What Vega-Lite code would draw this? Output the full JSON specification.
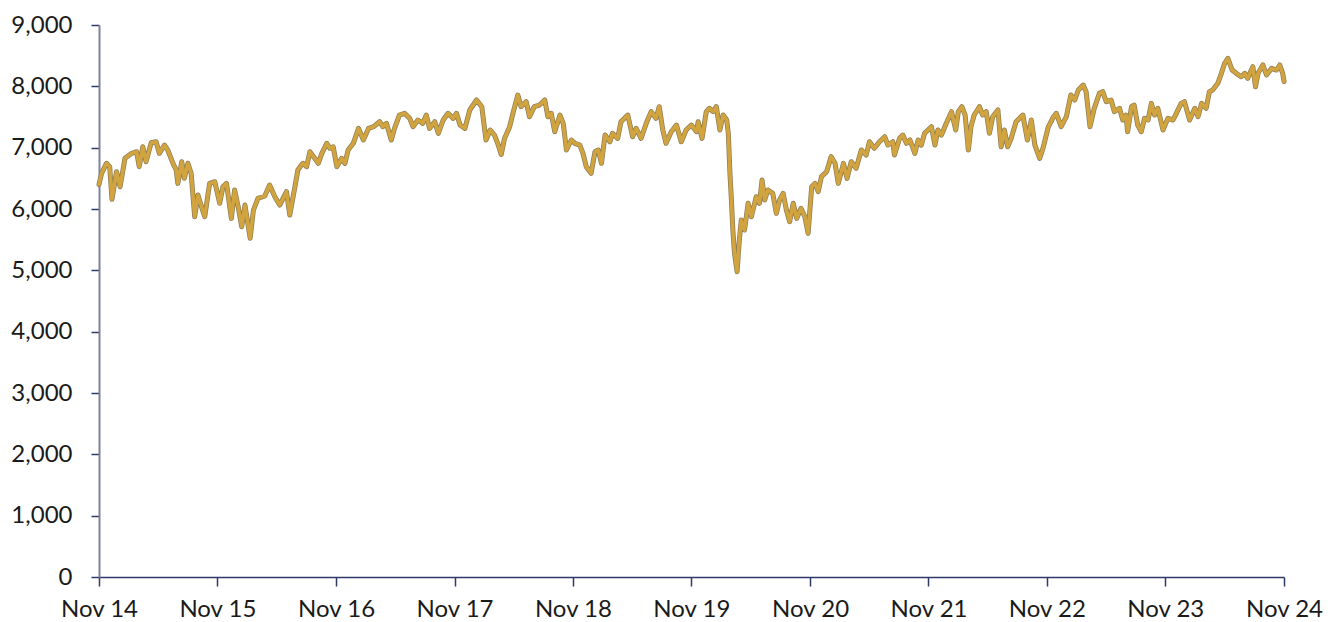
{
  "$schema": "https://vega.github.io/schema/vega-lite/v6.json",
  "width": 1185,
  "height": 552,
  "autosize": {"type": "none"},
  "padding": {"left": 99, "top": 25, "right": 56, "bottom": 45},
  "background": "#ffffff",
  "config": {
    "view": {"stroke": null},
    "font": "Lato",
    "axis": {"grid": false, "labelFont": "Lato", "labelFontSize": 24, "labelColor": "#1a1a1a", "title": null}
  },
  "datasets": {
    "idx": [
      {"date":"2014-11-01","value":6400},{"date":"2014-11-09","value":6582},{"date":"2014-11-24","value":6745},{"date":"2014-12-04","value":6690},{"date":"2014-12-11","value":6158},{"date":"2014-12-25","value":6608},
      {"date":"2015-01-05","value":6363},{"date":"2015-01-20","value":6826},{"date":"2015-02-10","value":6908},{"date":"2015-02-25","value":6934},{"date":"2015-03-05","value":6690},{"date":"2015-03-16","value":7015},{"date":"2015-03-26","value":6771},{"date":"2015-04-11","value":7081},{"date":"2015-04-26","value":7097},{"date":"2015-05-06","value":6908},{"date":"2015-05-22","value":7043},{"date":"2015-06-01","value":6962},{"date":"2015-06-17","value":6745},{"date":"2015-06-27","value":6636},{"date":"2015-07-02","value":6418},{"date":"2015-07-14","value":6771},{"date":"2015-07-22","value":6500},{"date":"2015-08-02","value":6745},{"date":"2015-08-12","value":6582},{"date":"2015-08-23","value":5874},{"date":"2015-09-02","value":6228},{"date":"2015-09-13","value":6037},{"date":"2015-09-23","value":5874},{"date":"2015-10-08","value":6418},{"date":"2015-10-24","value":6445},{"date":"2015-11-08","value":6093},{"date":"2015-11-18","value":6363},{"date":"2015-11-29","value":6418},{"date":"2015-12-14","value":5847},{"date":"2015-12-24","value":6310},
      {"date":"2016-01-04","value":6037},{"date":"2016-01-15","value":5711},{"date":"2016-01-25","value":6065},{"date":"2016-02-10","value":5522},{"date":"2016-02-20","value":5983},{"date":"2016-03-05","value":6174},{"date":"2016-03-26","value":6212},{"date":"2016-04-10","value":6391},{"date":"2016-04-26","value":6200},{"date":"2016-05-11","value":6065},{"date":"2016-06-01","value":6282},{"date":"2016-06-11","value":5902},{"date":"2016-06-27","value":6363},{"date":"2016-07-06","value":6636},{"date":"2016-07-17","value":6717},{"date":"2016-07-22","value":6745},{"date":"2016-08-02","value":6690},{"date":"2016-08-12","value":6934},{"date":"2016-08-27","value":6826},{"date":"2016-09-07","value":6745},{"date":"2016-09-18","value":6908},{"date":"2016-10-03","value":7071},{"date":"2016-10-13","value":6990},{"date":"2016-10-23","value":7015},{"date":"2016-11-03","value":6690},{"date":"2016-11-18","value":6826},{"date":"2016-11-28","value":6745},{"date":"2016-12-08","value":6962},{"date":"2016-12-24","value":7071},
      {"date":"2017-01-09","value":7315},{"date":"2017-01-24","value":7125},{"date":"2017-02-09","value":7315},{"date":"2017-02-25","value":7342},{"date":"2017-03-15","value":7423},{"date":"2017-03-25","value":7342},{"date":"2017-04-05","value":7397},{"date":"2017-04-20","value":7125},{"date":"2017-04-30","value":7315},{"date":"2017-05-15","value":7532},{"date":"2017-05-31","value":7560},{"date":"2017-06-16","value":7478},{"date":"2017-06-26","value":7342},{"date":"2017-07-11","value":7451},{"date":"2017-07-26","value":7397},{"date":"2017-08-06","value":7532},{"date":"2017-08-16","value":7315},{"date":"2017-09-01","value":7423},{"date":"2017-09-12","value":7234},{"date":"2017-09-27","value":7451},{"date":"2017-10-12","value":7560},{"date":"2017-10-28","value":7478},{"date":"2017-11-07","value":7560},{"date":"2017-11-18","value":7369},{"date":"2017-12-03","value":7315},{"date":"2017-12-18","value":7614},
      {"date":"2018-01-08","value":7777},{"date":"2018-01-24","value":7668},{"date":"2018-02-06","value":7125},{"date":"2018-02-19","value":7288},{"date":"2018-03-04","value":7206},{"date":"2018-03-14","value":7071},{"date":"2018-03-25","value":6890},{"date":"2018-04-04","value":7150},{"date":"2018-04-20","value":7342},{"date":"2018-04-30","value":7560},{"date":"2018-05-15","value":7858},{"date":"2018-05-25","value":7668},{"date":"2018-06-10","value":7750},{"date":"2018-06-20","value":7505},{"date":"2018-07-05","value":7668},{"date":"2018-07-21","value":7695},{"date":"2018-08-06","value":7777},{"date":"2018-08-16","value":7505},{"date":"2018-08-26","value":7560},{"date":"2018-09-06","value":7260},{"date":"2018-09-22","value":7532},{"date":"2018-10-02","value":7397},{"date":"2018-10-12","value":6962},{"date":"2018-10-27","value":7125},{"date":"2018-11-07","value":7071},{"date":"2018-11-22","value":7043},{"date":"2018-12-02","value":6908},{"date":"2018-12-12","value":6690},{"date":"2018-12-27","value":6582},
      {"date":"2019-01-08","value":6934},{"date":"2019-01-18","value":6962},{"date":"2019-01-28","value":6745},{"date":"2019-02-08","value":7206},{"date":"2019-02-23","value":7097},{"date":"2019-03-03","value":7234},{"date":"2019-03-19","value":7152},{"date":"2019-03-29","value":7423},{"date":"2019-04-19","value":7532},{"date":"2019-05-04","value":7179},{"date":"2019-05-15","value":7315},{"date":"2019-05-30","value":7152},{"date":"2019-06-15","value":7397},{"date":"2019-06-30","value":7587},{"date":"2019-07-15","value":7478},{"date":"2019-07-25","value":7668},{"date":"2019-08-05","value":7288},{"date":"2019-08-15","value":7071},{"date":"2019-08-31","value":7260},{"date":"2019-09-16","value":7369},{"date":"2019-10-01","value":7097},{"date":"2019-10-16","value":7288},{"date":"2019-11-01","value":7369},{"date":"2019-11-17","value":7260},{"date":"2019-11-22","value":7423},{"date":"2019-12-04","value":7152},{"date":"2019-12-17","value":7587},{"date":"2019-12-27","value":7641},
      {"date":"2020-01-07","value":7587},{"date":"2020-01-17","value":7668},{"date":"2020-01-28","value":7288},{"date":"2020-02-07","value":7532},{"date":"2020-02-18","value":7451},{"date":"2020-02-23","value":7234},{"date":"2020-02-28","value":6582},{"date":"2020-03-03","value":6200},{"date":"2020-03-08","value":5657},{"date":"2020-03-13","value":5277},{"date":"2020-03-21","value":4978},{"date":"2020-03-28","value":5494},{"date":"2020-04-03","value":5820},{"date":"2020-04-13","value":5657},{"date":"2020-04-24","value":6093},{"date":"2020-05-04","value":5874},{"date":"2020-05-19","value":6200},{"date":"2020-05-29","value":6093},{"date":"2020-06-06","value":6473},{"date":"2020-06-14","value":6147},{"date":"2020-06-24","value":6310},{"date":"2020-07-09","value":6255},{"date":"2020-07-20","value":5929},{"date":"2020-07-30","value":6147},{"date":"2020-08-10","value":6255},{"date":"2020-08-20","value":5983},{"date":"2020-08-30","value":5793},{"date":"2020-09-10","value":6093},{"date":"2020-09-21","value":5847},{"date":"2020-10-04","value":6011},{"date":"2020-10-16","value":5874},{"date":"2020-10-26","value":5603},{"date":"2020-11-06","value":6363},{"date":"2020-11-16","value":6418},{"date":"2020-11-26","value":6282},{"date":"2020-12-06","value":6527},{"date":"2020-12-22","value":6608},
      {"date":"2021-01-05","value":6853},{"date":"2021-01-17","value":6745},{"date":"2021-01-27","value":6418},{"date":"2021-02-12","value":6745},{"date":"2021-02-23","value":6500},{"date":"2021-03-08","value":6771},{"date":"2021-03-23","value":6663},{"date":"2021-04-08","value":6962},{"date":"2021-04-23","value":6880},{"date":"2021-05-03","value":7097},{"date":"2021-05-18","value":6990},{"date":"2021-06-03","value":7097},{"date":"2021-06-19","value":7179},{"date":"2021-06-29","value":7043},{"date":"2021-07-14","value":7097},{"date":"2021-07-19","value":6880},{"date":"2021-08-04","value":7152},{"date":"2021-08-14","value":7206},{"date":"2021-08-25","value":7071},{"date":"2021-09-05","value":7125},{"date":"2021-09-20","value":6908},{"date":"2021-09-30","value":7125},{"date":"2021-10-10","value":7043},{"date":"2021-10-20","value":7234},{"date":"2021-11-10","value":7342},{"date":"2021-11-21","value":7043},{"date":"2021-11-30","value":7288},{"date":"2021-12-11","value":7206},{"date":"2021-12-26","value":7397},
      {"date":"2022-01-11","value":7587},{"date":"2022-01-24","value":7288},{"date":"2022-02-01","value":7587},{"date":"2022-02-12","value":7668},{"date":"2022-02-22","value":7532},{"date":"2022-03-04","value":6962},{"date":"2022-03-12","value":7342},{"date":"2022-03-22","value":7532},{"date":"2022-04-07","value":7668},{"date":"2022-04-17","value":7532},{"date":"2022-04-28","value":7587},{"date":"2022-05-08","value":7234},{"date":"2022-05-18","value":7505},{"date":"2022-06-03","value":7614},{"date":"2022-06-13","value":7015},{"date":"2022-06-23","value":7288},{"date":"2022-07-03","value":7015},{"date":"2022-07-14","value":7152},{"date":"2022-07-29","value":7423},{"date":"2022-08-19","value":7532},{"date":"2022-09-02","value":7125},{"date":"2022-09-14","value":7451},{"date":"2022-09-25","value":7043},{"date":"2022-10-10","value":6826},{"date":"2022-10-20","value":6990},{"date":"2022-11-05","value":7330},{"date":"2022-11-20","value":7490},{"date":"2022-11-30","value":7560},{"date":"2022-12-15","value":7342},{"date":"2022-12-31","value":7505},
      {"date":"2023-01-14","value":7858},{"date":"2023-01-26","value":7777},{"date":"2023-02-06","value":7940},{"date":"2023-02-21","value":8021},{"date":"2023-03-02","value":7913},{"date":"2023-03-14","value":7342},{"date":"2023-03-27","value":7641},{"date":"2023-04-12","value":7886},{"date":"2023-04-22","value":7913},{"date":"2023-05-03","value":7750},{"date":"2023-05-18","value":7777},{"date":"2023-05-28","value":7587},{"date":"2023-06-13","value":7641},{"date":"2023-06-23","value":7451},{"date":"2023-07-03","value":7532},{"date":"2023-07-08","value":7260},{"date":"2023-07-20","value":7668},{"date":"2023-07-28","value":7695},{"date":"2023-08-08","value":7369},{"date":"2023-08-19","value":7260},{"date":"2023-08-29","value":7478},{"date":"2023-09-09","value":7451},{"date":"2023-09-19","value":7722},{"date":"2023-09-29","value":7532},{"date":"2023-10-09","value":7641},{"date":"2023-10-25","value":7288},{"date":"2023-11-09","value":7478},{"date":"2023-11-25","value":7451},{"date":"2023-12-05","value":7560},{"date":"2023-12-20","value":7722},{"date":"2023-12-30","value":7750},
      {"date":"2024-01-15","value":7451},{"date":"2024-01-31","value":7641},{"date":"2024-02-10","value":7505},{"date":"2024-02-21","value":7722},{"date":"2024-03-06","value":7641},{"date":"2024-03-16","value":7913},{"date":"2024-03-26","value":7940},{"date":"2024-04-11","value":8049},{"date":"2024-04-22","value":8212},{"date":"2024-05-02","value":8375},{"date":"2024-05-12","value":8457},{"date":"2024-05-25","value":8266},{"date":"2024-06-07","value":8212},{"date":"2024-06-22","value":8157},{"date":"2024-07-03","value":8212},{"date":"2024-07-12","value":8130},{"date":"2024-07-28","value":8320},{"date":"2024-08-05","value":7994},{"date":"2024-08-13","value":8212},{"date":"2024-08-28","value":8348},{"date":"2024-09-08","value":8185},{"date":"2024-09-24","value":8293},{"date":"2024-10-09","value":8266},{"date":"2024-10-19","value":8348},{"date":"2024-10-28","value":8212},{"date":"2024-11-01","value":8080}
    ]
  },
  "data": {"name": "idx"},
  "encoding": {
    "x": {
      "field": "date",
      "type": "temporal",
      "scale": {"type": "utc", "domain": [{"year": 2014, "month": 11, "date": 1, "utc": true}, {"year": 2024, "month": 11, "date": 1, "utc": true}]},
      "axis": {
        "values": [
          {"year": 2014, "month": 11, "date": 1, "utc": true},
          {"year": 2015, "month": 11, "date": 1, "utc": true},
          {"year": 2016, "month": 11, "date": 1, "utc": true},
          {"year": 2017, "month": 11, "date": 1, "utc": true},
          {"year": 2018, "month": 11, "date": 1, "utc": true},
          {"year": 2019, "month": 11, "date": 1, "utc": true},
          {"year": 2020, "month": 11, "date": 1, "utc": true},
          {"year": 2021, "month": 11, "date": 1, "utc": true},
          {"year": 2022, "month": 11, "date": 1, "utc": true},
          {"year": 2023, "month": 11, "date": 1, "utc": true},
          {"year": 2024, "month": 11, "date": 1, "utc": true}
        ],
        "labelExpr": "utcFormat(datum.value, '%b %y')",
        "domainColor": "#2e3a68",
        "domainWidth": 1.5,
        "tickColor": "#2e3a68",
        "tickSize": 9,
        "tickWidth": 1.5,
        "labelPadding": 11,
        "labelFlush": false,
        "labelOverlap": false
      }
    },
    "y": {
      "field": "value",
      "type": "quantitative",
      "scale": {"domain": [0, 9000], "nice": false},
      "axis": {
        "values": [0, 1000, 2000, 3000, 4000, 5000, 6000, 7000, 8000, 9000],
        "labelExpr": "format(datum.value, ',')",
        "domainColor": "#7a839c",
        "domainWidth": 2,
        "tickColor": "#2e3a68",
        "tickSize": 8,
        "tickWidth": 1.5,
        "labelPadding": 19,
        "labelBaseline": "middle"
      }
    }
  },
  "layer": [
    {"mark": {"type": "line", "stroke": "#8c7d55", "strokeWidth": 5, "strokeJoin": "round", "strokeCap": "round"}},
    {"mark": {"type": "line", "stroke": "#d1a440", "strokeWidth": 3.6, "strokeJoin": "round", "strokeCap": "round"}}
  ]
}
